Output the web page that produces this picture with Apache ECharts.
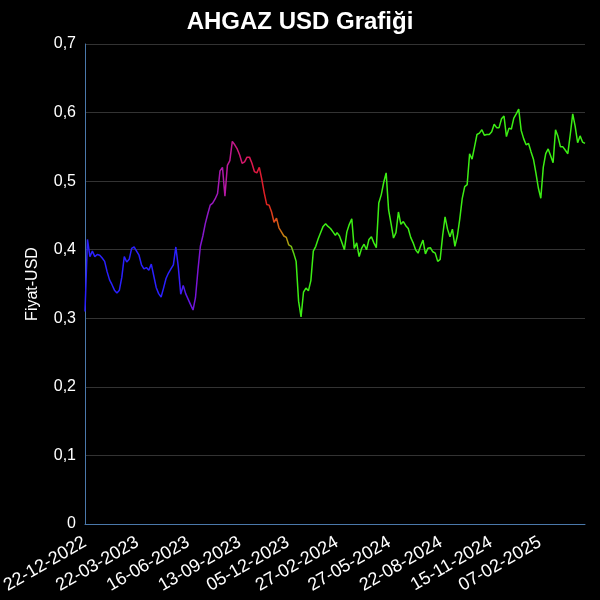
<!DOCTYPE html>
<html><head><meta charset="utf-8">
<script src="https://cdn.jsdelivr.net/npm/echarts@6/dist/echarts.min.js"></script>
<style>html,body{margin:0;padding:0;background:#000}#c{width:600px;height:600px}</style>
</head><body><div id="c"></div>
<script>
const titleText = 'AHGAZ USD Grafiği';
const yAxisName = 'Fiyat-USD';
const startDate = '2022-12-22';
const endDate = '2025-04-25';
const tickLabels = ['22-12-2022','22-03-2023','16-06-2023','13-09-2023','05-12-2023','27-02-2024','27-05-2024','22-08-2024','15-11-2024','07-02-2025'];
const prices = [
0.31, 0.415, 0.39, 0.398, 0.39, 0.393, 0.392, 0.388, 0.383, 0.368,
0.356, 0.349, 0.341, 0.337, 0.341, 0.36, 0.39, 0.382, 0.386, 0.402,
0.404, 0.398, 0.392, 0.378, 0.372, 0.374, 0.37, 0.379, 0.362, 0.345,
0.336, 0.331, 0.344, 0.358, 0.366, 0.372, 0.378, 0.404, 0.375, 0.335,
0.348, 0.336, 0.328, 0.32, 0.312, 0.33, 0.37, 0.405, 0.42, 0.438,
0.452, 0.465, 0.468, 0.474, 0.482, 0.515, 0.52, 0.478, 0.523, 0.53,
0.558, 0.553, 0.547, 0.538, 0.526, 0.528, 0.535, 0.535, 0.526, 0.514,
0.512, 0.52, 0.503, 0.483, 0.466, 0.465, 0.455, 0.44, 0.446, 0.432,
0.426, 0.42, 0.418, 0.407, 0.405, 0.395, 0.383, 0.325, 0.302, 0.338,
0.344, 0.34, 0.355, 0.398, 0.405, 0.416, 0.425, 0.434, 0.438, 0.434,
0.431, 0.426, 0.421, 0.425, 0.42, 0.41, 0.40, 0.426, 0.437, 0.445,
0.402, 0.41, 0.39, 0.402, 0.408, 0.40, 0.415, 0.419, 0.41, 0.403,
0.468, 0.48, 0.498, 0.512, 0.458, 0.438, 0.417, 0.425, 0.455, 0.437,
0.441, 0.435, 0.431, 0.418, 0.41, 0.40, 0.395, 0.405, 0.414, 0.394,
0.402, 0.403, 0.397, 0.395, 0.383, 0.386, 0.42, 0.448, 0.43, 0.419,
0.43, 0.405, 0.42, 0.445, 0.475, 0.492, 0.495, 0.54, 0.532, 0.55,
0.568, 0.57, 0.575, 0.567, 0.568, 0.568, 0.572, 0.583, 0.578, 0.578,
0.591, 0.595, 0.565, 0.577, 0.576, 0.592, 0.598, 0.605, 0.574, 0.562,
0.553, 0.555, 0.543, 0.532, 0.512, 0.49, 0.475, 0.52, 0.54, 0.547,
0.537, 0.527, 0.575, 0.565, 0.55, 0.55, 0.545, 0.54, 0.568, 0.598,
0.58, 0.556, 0.566, 0.557, 0.555
];
const colorFromDate = '29-05-2023';
const colorToDate = '19-12-2023';
const lineColors = ['#2a20ff','#5a18e8','#7a14d8','#8c18c8','#a018b8','#b818a0','#c81880','#d81860','#e01840','#e02020','#d85018','#c09010','#3cee14'];

function pad(n){ return n < 10 ? '0' + n : '' + n; }
const dates = [];
let d = new Date(startDate + 'T00:00:00Z');
const end = new Date(endDate + 'T00:00:00Z');
while (d <= end) {
  const w = d.getUTCDay();
  if (w !== 0 && w !== 6) dates.push(pad(d.getUTCDate()) + '-' + pad(d.getUTCMonth() + 1) + '-' + d.getUTCFullYear());
  d = new Date(d.getTime() + 86400000);
}
const last = dates.length - 1;
const seriesData = prices.map((v, j) => [Math.round(j * last / (prices.length - 1)), v]);
const tickSet = new Set(tickLabels);
const font = 'Liberation Sans, Arial, sans-serif';

const chart = echarts.init(document.getElementById('c'));
chart.setOption({
  backgroundColor: '#000',
  animation: false,
  title: {
    text: titleText, left: 'center', top: 5,
    textStyle: { color: '#fff', fontSize: 24, fontWeight: 'bold', fontFamily: font }
  },
  grid: { left: 85, right: 15, top: 44, bottom: 76, containLabel: false, outerBoundsMode: 'none' },
  xAxis: {
    type: 'category', data: dates, boundaryGap: false,
    axisLine: { show: true, lineStyle: { color: '#4a78aa', width: 1 } },
    axisTick: { show: false },
    splitLine: { show: false },
    axisLabel: {
      color: '#fff', fontSize: 18, fontFamily: font, rotate: 30, margin: 17,
      interval: (i, v) => tickSet.has(v)
    }
  },
  yAxis: {
    type: 'value', min: 0, max: 0.7, interval: 0.1,
    name: yAxisName, nameLocation: 'middle', nameGap: 44,
    nameTextStyle: { color: '#fff', fontSize: 16, fontFamily: font },
    axisLine: { show: true, lineStyle: { color: '#4a78aa', width: 1 } },
    axisTick: { show: false },
    splitLine: { show: true, lineStyle: { color: '#333', width: 1 } },
    axisLabel: {
      color: '#fff', fontSize: 16, fontFamily: font, margin: 9,
      formatter: v => v === 0 ? '0' : v.toFixed(1).replace('.', ',')
    }
  },
  visualMap: {
    show: false, type: 'continuous', dimension: 0, seriesIndex: 0,
    min: dates.indexOf(colorFromDate), max: dates.indexOf(colorToDate),
    inRange: { color: lineColors }
  },
  series: [{
    type: 'line', data: seriesData, showSymbol: false, symbol: 'none',
    lineStyle: { width: 1.5 }
  }]
});
</script>
</body></html>
